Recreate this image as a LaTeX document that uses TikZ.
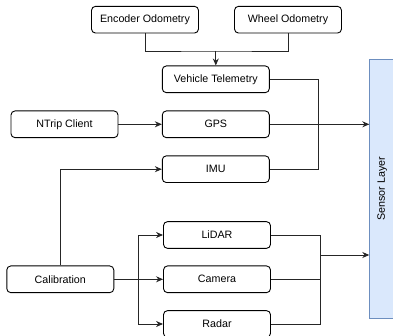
\documentclass[tikz,border=0pt]{standalone}
\usepackage{fontspec}
\setmainfont{Liberation Sans}
\usetikzlibrary{arrows.meta}
\definecolor{layerfill}{HTML}{DAE8FC}
\definecolor{layerdraw}{HTML}{6C8EBF}
\begin{document}
\begin{tikzpicture}[x=1pt,y=-1pt,
  box/.style={draw=black, line width=0.9pt, rounded corners=4pt, minimum width=107pt,
    minimum height=26.7pt, inner sep=0pt, font=\fontsize{10.7}{12}\selectfont, anchor=center},
  wire/.style={draw=black!85, line width=0.9pt},
  arr/.style={wire, -{Stealth[length=7pt,width=6pt]}}]
\useasboundingbox (0,0) rectangle (393,336);

% sensor layer bar on the right edge
\node[draw=layerdraw, fill=layerfill, line width=0.8pt, minimum width=26pt, minimum height=259pt,
  inner sep=0pt, anchor=north west] (layer) at (369.3,59.3) {};
\node[rotate=90, font=\fontsize{10.7}{12}\selectfont] (layertext) at (382.3,188.8) {Sensor Layer};

% sources
\node[box] (enc) at (145,19.7) {Encoder Odometry};
\node[box] (wheel) at (288,19.7) {Wheel Odometry};
\node[box] (veh) at (215.8,79.3) {Vehicle Telemetry};
\node[box] (ntrip) at (64.5,124.3) {NTrip Client};
\node[box] (gps) at (215.8,124.3) {GPS};
\node[box] (imu) at (215.8,169.2) {IMU};
\node[box] (lidar) at (217,235) {LiDAR};
\node[box] (cam) at (217,279.3) {Camera};
\node[box] (radar) at (217,324) {Radar};
\node[box] (cal) at (60.3,279.3) {Calibration};

% junction points
\coordinate (jodo) at (215.8,51);
\coordinate (jveh) at (318.3,169.2);
\coordinate (jcal) at (138.3,279.3);
\coordinate (jsen) at (320.7,255);

% odometry merges into vehicle telemetry
\draw[wire] (enc.south) |- (jodo) -| (wheel.south);
\draw[arr] (jodo) -- (veh.north);

% vehicle telemetry and IMU join the GPS line
\draw[wire] (veh.east) -| (jveh) -- (imu.east);
\draw[arr] (ntrip.east) -- (gps.west);
\draw[arr] (gps.east) -- (gps.east -| layer.west);

% calibration feeds IMU and the perception sensors
\draw[arr] (cal.north) |- (imu.west);
\draw[arr] (cal.east) -- (cam.west);
\draw[arr] (jcal) |- (lidar.west);
\draw[arr] (jcal) |- (radar.west);

% perception sensors merge into the sensor layer
\draw[wire] (lidar.east) -| (jsen |- radar.east) -- (radar.east);
\draw[wire] (cam.east) -- (cam.east -| jsen);
\draw[arr] (jsen) -- (jsen -| layer.west);
\end{tikzpicture}
\end{document}
